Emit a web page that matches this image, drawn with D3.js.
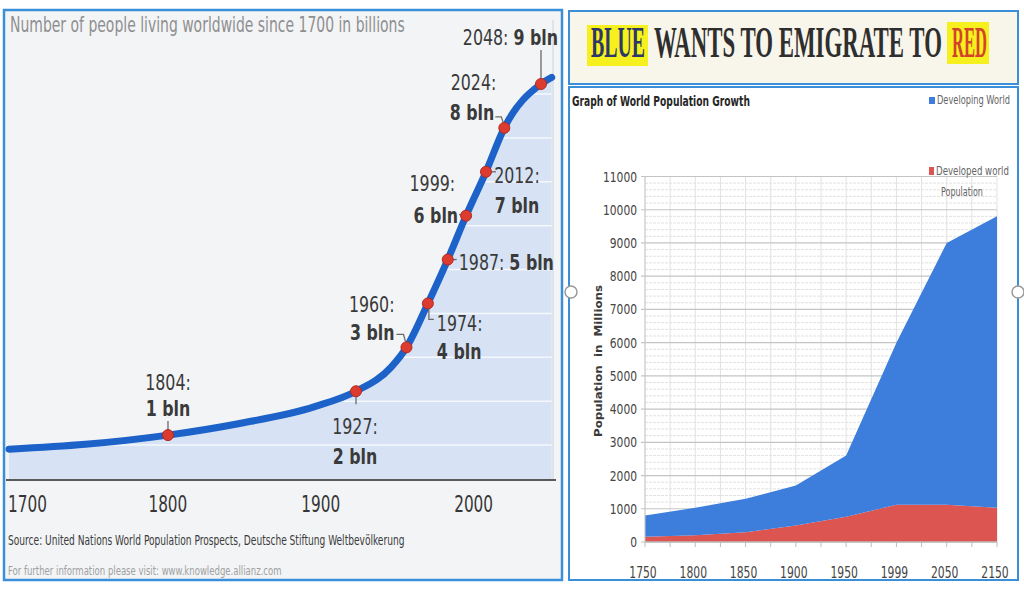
<!DOCTYPE html>
<html>
<head>
<meta charset="utf-8">
<script src="https://cdn.jsdelivr.net/npm/d3@7"></script>
<style>
  body { margin: 0; background: #fff; }
  svg { display: block; }
</style>
</head>
<body>
<div id="canvas"></div>
<script>
// left chart: world population in billions
const years = [1700, 1750, 1804, 1850, 1900, 1927, 1950, 1960, 1974, 1987, 1999, 2012, 2024, 2048, 2055];
const billions = [0.68, 0.79, 1, 1.26, 1.65, 2, 2.55, 3, 4, 5, 6, 7, 8, 9, 9.15];
const milestoneYears = [1804, 1927, 1960, 1974, 1987, 1999, 2012, 2024, 2048];
const milestoneValues = [1, 2, 3, 4, 5, 6, 7, 8, 9];
const leftTicks = [1700, 1800, 1900, 2000];

// right chart: stacked area, millions
const popYears = ["1750", "1800", "1850", "1900", "1950", "1999", "2050", "2150"];
const developed = [160, 200, 290, 500, 760, 1120, 1120, 1030];
const developing = [640, 830, 1010, 1200, 1840, 4880, 7880, 8770];
const popTicks = [0, 1000, 2000, 3000, 4000, 5000, 6000, 7000, 8000, 9000, 10000, 11000];

const NARROW = '"Liberation Sans Narrow", "DejaVu Sans Condensed", "Liberation Sans", sans-serif';
const BORDER = "#3b8fd9";

const svg = d3.select("#canvas").append("svg")
    .attr("width", 1024)
    .attr("height", 596);

// text drawn at the origin, then moved and squeezed horizontally with a transform
function txt(parent, px, py, str, anchor) {
    return parent.append("text")
        .attr("transform", `translate(${px},${py})`)
        .attr("text-anchor", anchor || "start")
        .text(str);
}
function squeeze(sel, f) {
    sel.each(function () {
        const t = d3.select(this);
        t.attr("transform", t.attr("transform") + ` scale(${f},1)`);
    });
}
function fitWidth(sel, w) {
    sel.each(function () {
        const len = this.getComputedTextLength();
        const t = d3.select(this);
        t.attr("transform", t.attr("transform") + ` scale(${w / len},1)`);
    });
}

// ---------- left panel ----------
const left = svg.append("g");
left.append("rect")
    .attr("x", 4).attr("y", 10).attr("width", 558).attr("height", 570)
    .attr("fill", "#f3f4f6").attr("stroke", BORDER).attr("stroke-width", 2.5);

const x = d3.scaleLinear().domain([1700, 2048]).range([9, 541]);
const y = d3.scaleLinear().domain([0, 9]).range([479, 84]);

const pts = years.map((yr, i) => ({ year: yr, v: billions[i] }));

const area = d3.area().curve(d3.curveMonotoneX)
    .x(d => x(d.year)).y0(y(0)).y1(d => y(d.v));
const line = d3.line().curve(d3.curveMonotoneX)
    .x(d => x(d.year)).y(d => y(d.v));

left.append("clipPath").attr("id", "under")
    .append("path").attr("d", area(pts));

left.append("path")
    .attr("d", area(pts))
    .attr("fill", "#d7e3f4");

left.append("g")
    .attr("clip-path", "url(#under)")
    .selectAll("line")
    .data(d3.range(1, 10))
    .join("line")
    .attr("x1", 8).attr("x2", 556)
    .attr("y1", d => y(d) + 10).attr("y2", d => y(d) + 10)
    .attr("stroke", "#fff").attr("stroke-opacity", 0.75).attr("stroke-width", 1.5);

left.append("line")
    .attr("x1", 553).attr("x2", 553).attr("y1", 20).attr("y2", y(0))
    .attr("stroke", "#c9d3df").attr("stroke-width", 1);

left.append("line")
    .attr("x1", 6).attr("x2", 556).attr("y1", y(0) + 1).attr("y2", y(0) + 1)
    .attr("stroke", "#5a5a5a").attr("stroke-width", 2);

left.append("path")
    .attr("d", line(pts))
    .attr("fill", "none")
    .attr("stroke", "#1d62c8")
    .attr("stroke-width", 7)
    .attr("stroke-linecap", "round");

const leftText = left.append("g").attr("font-family", NARROW);

fitWidth(txt(leftText, 10, 32, "Number of people living worldwide since 1700 in billions")
    .attr("font-size", 21).attr("fill", "#8e8f90"), 395);

leftTicks.forEach(d => {
    const t = txt(leftText, d === 1700 ? 8 : x(d) + 6, 512, d, d === 1700 ? "start" : "middle")
        .attr("font-size", 23).attr("fill", "#363636");
    squeeze(t, 0.74);
});

fitWidth(txt(leftText, 8, 545, "Source: United Nations World Population Prospects, Deutsche Stiftung Weltbevölkerung")
    .attr("font-size", 14).attr("fill", "#3a3a3a"), 397);
fitWidth(txt(leftText, 8, 575, "For further information please visit: www.knowledge.allianz.com")
    .attr("font-size", 13).attr("fill", "#a0a0a0"), 274);

// label placement around each milestone point
const layout = {
    1804: { a: "middle", yr: [0, -45], bl: [0, -19], c: [[0, -14], [0, -5]] },
    1927: { a: "middle", yr: [-1, 43], bl: [-1, 73], c: [[0, 5], [0, 13]] },
    1960: { a: "end", yr: [-12, -35], bl: [-12, -7], c: [[-10, -13], [-3, -13], [-1, -6]] },
    1974: { a: "start", yr: [9, 28], bl: [9, 56], c: [[1, 5], [1, 16], [6, 16]] },
    1987: { a: "start", one: [11, 10], c: [[4, 0], [9, 0]] },
    1999: { a: "end", yr: [-11, -25], bl: [-8, 7], c: [[-7, -1], [-3, -1]] },
    2012: { a: "middle", yr: [31, 11], bl: [31, 41], c: [[4, 0], [10, 0]] },
    2024: { a: "end", yr: [-8, -38], bl: [-10, -8], c: [[-9, -11], [-3, -11], [-1, -5]] },
    2048: { a: "end", one: [17, -39], c: [[0, -34], [0, -6]] }
};

const milestones = milestoneYears.map((yr, i) => ({ year: yr, v: milestoneValues[i] }));
const labelG = left.append("g")
    .attr("font-family", NARROW).attr("font-size", 22).attr("fill", "#3a3a3a");

milestones.forEach(m => {
    const L = layout[m.year];
    const px = x(m.year), py = y(m.v);
    labelG.append("path")
        .attr("d", d3.line()(L.c.map(([dx, dy]) => [px + dx, py + dy])))
        .attr("fill", "none").attr("stroke", "#6a6a6a").attr("stroke-width", 1.3);
    if (L.one) {
        const t = txt(labelG, px + L.one[0], py + L.one[1], null, L.a);
        t.append("tspan").text(m.year + ": ");
        t.append("tspan").attr("font-weight", "bold").text(m.v + " bln");
        squeeze(t, 0.8);
    } else {
        squeeze(txt(labelG, px + L.yr[0], py + L.yr[1], m.year + ":", L.a), 0.8);
        squeeze(txt(labelG, px + L.bl[0], py + L.bl[1], m.v + " bln", L.a)
            .attr("font-weight", "bold"), 0.8);
    }
});

left.append("g")
    .selectAll("circle")
    .data(milestones)
    .join("circle")
    .attr("cx", d => x(d.year)).attr("cy", d => y(d.v))
    .attr("r", 5.5)
    .attr("fill", "#dc3b30")
    .attr("stroke", "#b02a22").attr("stroke-width", 1);

// ---------- right panel ----------
const right = svg.append("g");
right.append("rect")
    .attr("x", 569).attr("y", 11).attr("width", 449).attr("height", 73)
    .attr("fill", "#f8f5ea").attr("stroke", BORDER).attr("stroke-width", 2);
right.append("rect")
    .attr("x", 569).attr("y", 87).attr("width", 449).attr("height", 493)
    .attr("fill", "#fff").attr("stroke", BORDER).attr("stroke-width", 2);

// headline
right.append("rect").attr("x", 587).attr("y", 25).attr("width", 61).attr("height", 41).attr("fill", "#f6f01e");
right.append("rect").attr("x", 947).attr("y", 22).attr("width", 42).attr("height", 42).attr("fill", "#f6f01e");
const head = right.append("g")
    .attr("font-family", '"Liberation Serif", "DejaVu Serif", serif')
    .attr("font-size", 44).attr("font-weight", "bold");
fitWidth(txt(head, 591, 57, "BLUE").attr("fill", "#2c3868"), 54);
fitWidth(txt(head, 654, 57, "WANTS TO EMIGRATE TO").attr("fill", "#2e2e2e"), 288);
fitWidth(txt(head, 952, 57, "RED").attr("fill", "#d3432a"), 35);

const rightText = right.append("g").attr("font-family", NARROW);
fitWidth(txt(rightText, 572, 106, "Graph of World Population Growth")
    .attr("font-size", 14).attr("font-weight", "bold").attr("fill", "#262626"), 178);

const xp = d3.scalePoint().domain(popYears).range([645, 997]);
const yp = d3.scaleLinear().domain([0, 11000]).range([542, 176.5]);

// grid
const grid = right.append("g");
const halfStep = xp.step() / 2;
const vx = d3.range(0, popYears.length * 2 - 1).map(i => xp.range()[0] + i * halfStep);
grid.selectAll(".minor")
    .data(d3.range(200, 11000, 200).filter(v => v % 1000 !== 0))
    .join("line")
    .attr("x1", 645).attr("x2", 997)
    .attr("y1", d => yp(d)).attr("y2", d => yp(d))
    .attr("stroke", "#e2e2e2").attr("stroke-width", 1).attr("stroke-dasharray", "3,1");
grid.selectAll(".vert")
    .data(vx)
    .join("line")
    .attr("x1", d => d).attr("x2", d => d)
    .attr("y1", yp(11000)).attr("y2", yp(0))
    .attr("stroke", "#e2e2e2").attr("stroke-width", 1);
grid.selectAll(".major")
    .data(popTicks)
    .join("line")
    .attr("x1", 641).attr("x2", 997)
    .attr("y1", d => yp(d)).attr("y2", d => yp(d))
    .attr("stroke", "#c4c4c4").attr("stroke-width", 1.2);

// stacked areas
const rows = popYears.map((yr, i) => ({ year: yr, developed: developed[i], developing: developing[i] }));
const stack = d3.stack().keys(["developed", "developing"])(rows);
const colors = { developed: "#dc5550", developing: "#3d7ddb" };
const areaP = d3.area()
    .x(d => xp(d.data.year))
    .y0(d => yp(d[0]))
    .y1(d => yp(d[1]));
right.append("g")
    .selectAll("path")
    .data(stack)
    .join("path")
    .attr("d", areaP)
    .attr("fill", d => colors[d.key]);

// axes
right.append("line")
    .attr("x1", 645).attr("x2", 645).attr("y1", yp(11000)).attr("y2", yp(0))
    .attr("stroke", "#c8c8c8");
right.append("line")
    .attr("x1", 645).attr("x2", 997).attr("y1", yp(0)).attr("y2", yp(0))
    .attr("stroke", "#bdbdbd").attr("stroke-width", 1.5);
right.append("g")
    .selectAll("line")
    .data(vx)
    .join("line")
    .attr("x1", d => d).attr("x2", d => d)
    .attr("y1", yp(0)).attr("y2", yp(0) + 5)
    .attr("stroke", "#bdbdbd");

popTicks.forEach(d => {
    squeeze(txt(rightText, 637, yp(d) + 5, d, "end")
        .attr("font-size", 14).attr("fill", "#454545"), 0.85);
});
popYears.forEach(d => {
    squeeze(txt(rightText, xp(d) - 2, 578, d, "middle")
        .attr("font-size", 15).attr("fill", "#454545"), 0.8);
});

const yTitle = right.append("text")
    .attr("transform", "translate(602,361) rotate(-90)")
    .attr("text-anchor", "middle")
    .attr("font-family", '"DejaVu Sans", Verdana, sans-serif')
    .attr("font-size", 11).attr("font-weight", "bold")
    .attr("fill", "#3a3a3a")
    .attr("xml:space", "preserve")
    .text("Population  in  Millions");
fitWidth(yTitle, 152);

// legend
const legend = right.append("g").attr("font-family", NARROW).attr("font-size", 12).attr("fill", "#666");
legend.append("rect").attr("x", 929).attr("y", 97).attr("width", 6).attr("height", 7).attr("fill", colors.developing);
fitWidth(txt(legend, 937, 104, "Developing World"), 73);
legend.append("rect").attr("x", 929).attr("y", 167).attr("width", 5).attr("height", 8).attr("fill", colors.developed);
fitWidth(txt(legend, 936, 175, "Developed world"), 73);
fitWidth(txt(legend, 941, 196, "Population"), 42);

// selection handles on the right frame
right.selectAll(".handle")
    .data([[571, 292], [1018, 292]])
    .join("circle")
    .attr("cx", d => d[0]).attr("cy", d => d[1])
    .attr("r", 6)
    .attr("fill", "#fff").attr("stroke", "#9a9a9a").attr("stroke-width", 1.5);
</script>
</body>
</html>
